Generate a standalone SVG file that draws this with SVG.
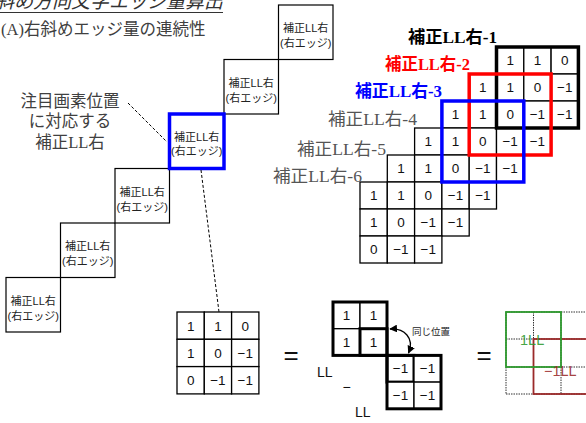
<svg xmlns="http://www.w3.org/2000/svg" width="586" height="423" viewBox="0 0 586 423">
<defs>
<style>
.box{fill:#fff;stroke:#000;stroke-width:1.2}
.bt{font-family:"Liberation Sans","Noto Sans CJK JP",sans-serif;font-size:11px;fill:#222;text-anchor:middle}
.ann{font-family:"Liberation Serif","Noto Sans CJK JP",serif;font-size:16.5px;fill:#404040}
.lbl{font-family:"Liberation Serif","Noto Sans CJK JP",serif;font-size:17px}
.cell{fill:#fff;stroke:#000;stroke-width:1.3}
.ct{font-family:"Liberation Sans","Noto Sans CJK JP",sans-serif;font-size:13.5px;fill:#111;text-anchor:middle}
.dash{stroke:#000;stroke-width:1;stroke-dasharray:3 2;fill:none}
.dot{stroke:#333;stroke-width:1;stroke-dasharray:1.5 1;fill:none}
.eq{font-family:"Liberation Sans",sans-serif;font-size:26px;fill:#111;text-anchor:middle}
.ll{font-family:"Liberation Sans",sans-serif;font-size:14px;fill:#111}
</style>
<marker id="ah" viewBox="0 0 10 10" refX="9" refY="5" markerWidth="6" markerHeight="6" orient="auto-start-reverse">
<path d="M0,0 L10,5 L0,10 z" fill="#000"/>
</marker>
</defs>
<rect width="586" height="423" fill="#fff"/>

<!-- title -->
<g id="title">
<text x="223" y="8" text-anchor="end" font-family="'Noto Sans CJK JP',sans-serif" font-size="19" font-style="italic" fill="#333">右斜め方向文字エッジ量算出</text>
<line x1="0" y1="12.5" x2="223" y2="12.5" stroke="#333" stroke-width="1"/>
<text x="1" y="35" font-family="'Liberation Serif','Noto Sans CJK JP',serif" font-size="16.5" fill="#404040">(A)右斜めエッジ量の連続性</text>
</g>

<!-- staircase boxes -->
<g id="box1"><rect class="box" x="6" y="277.5" width="54.5" height="54.5"/><text class="bt" x="33.2" y="304.5">補正LL右</text><text class="bt" x="33.2" y="319.5">(右エッジ)</text></g>
<g id="box2"><rect class="box" x="60.5" y="223" width="54.5" height="54.5"/><text class="bt" x="87.7" y="250">補正LL右</text><text class="bt" x="87.7" y="265">(右エッジ)</text></g>
<g id="box3"><rect class="box" x="115" y="168.5" width="54.5" height="54.5"/><text class="bt" x="142.2" y="195.5">補正LL右</text><text class="bt" x="142.2" y="210.5">(右エッジ)</text></g>
<g id="box5"><rect class="box" x="224" y="59.5" width="54.5" height="54.5"/><text class="bt" x="251.2" y="86.5">補正LL右</text><text class="bt" x="251.2" y="101.5">(右エッジ)</text></g>
<g id="box6"><rect class="box" x="278.5" y="5" width="54.5" height="54.5"/><text class="bt" x="305.7" y="32">補正LL右</text><text class="bt" x="305.7" y="47">(右エッジ)</text></g>
<g id="box4"><rect x="169.5" y="114" width="54.5" height="54.5" fill="#fff" stroke="#0000ff" stroke-width="3.5"/><text class="bt" x="196.7" y="141" font-size="10.5">補正LL右</text><text class="bt" x="196.7" y="155" font-size="10.5">(右エッジ)</text></g>

<!-- annotation -->
<g id="annotation">
<text class="ann" x="70" y="107" text-anchor="middle">注目画素位置</text>
<text class="ann" x="70" y="127" text-anchor="middle">に対応する</text>
<text class="ann" x="70" y="148" text-anchor="middle">補正LL右</text>
</g>

<!-- right grid -->
<g id="grid">
<rect class="cell" x="496.5" y="47" width="27.3" height="27"/><text class="ct" x="510.15" y="65">1</text>
<rect class="cell" x="523.8" y="47" width="27.3" height="27"/><text class="ct" x="537.45" y="65">1</text>
<rect class="cell" x="551.1" y="47" width="27.3" height="27"/><text class="ct" x="564.75" y="65">0</text>
<rect class="cell" x="469.2" y="74" width="27.3" height="27"/><text class="ct" x="482.85" y="92">1</text>
<rect class="cell" x="496.5" y="74" width="27.3" height="27"/><text class="ct" x="510.15" y="92">1</text>
<rect class="cell" x="523.8" y="74" width="27.3" height="27"/><text class="ct" x="537.45" y="92">0</text>
<rect class="cell" x="551.1" y="74" width="27.3" height="27"/><text class="ct" x="564.75" y="92">−1</text>
<rect class="cell" x="441.9" y="101" width="27.3" height="27"/><text class="ct" x="455.55" y="119">1</text>
<rect class="cell" x="469.2" y="101" width="27.3" height="27"/><text class="ct" x="482.85" y="119">1</text>
<rect class="cell" x="496.5" y="101" width="27.3" height="27"/><text class="ct" x="510.15" y="119">0</text>
<rect class="cell" x="523.8" y="101" width="27.3" height="27"/><text class="ct" x="537.45" y="119">−1</text>
<rect class="cell" x="551.1" y="101" width="27.3" height="27"/><text class="ct" x="564.75" y="119">−1</text>
<rect class="cell" x="414.6" y="128" width="27.3" height="27"/><text class="ct" x="428.25" y="146">1</text>
<rect class="cell" x="441.9" y="128" width="27.3" height="27"/><text class="ct" x="455.55" y="146">1</text>
<rect class="cell" x="469.2" y="128" width="27.3" height="27"/><text class="ct" x="482.85" y="146">0</text>
<rect class="cell" x="496.5" y="128" width="27.3" height="27"/><text class="ct" x="510.15" y="146">−1</text>
<rect class="cell" x="523.8" y="128" width="27.3" height="27"/><text class="ct" x="537.45" y="146">−1</text>
<rect class="cell" x="387.3" y="155" width="27.3" height="27"/><text class="ct" x="400.95" y="173">1</text>
<rect class="cell" x="414.6" y="155" width="27.3" height="27"/><text class="ct" x="428.25" y="173">1</text>
<rect class="cell" x="441.9" y="155" width="27.3" height="27"/><text class="ct" x="455.55" y="173">0</text>
<rect class="cell" x="469.2" y="155" width="27.3" height="27"/><text class="ct" x="482.85" y="173">−1</text>
<rect class="cell" x="496.5" y="155" width="27.3" height="27"/><text class="ct" x="510.15" y="173">−1</text>
<rect class="cell" x="360" y="182" width="27.3" height="27"/><text class="ct" x="373.65" y="200">1</text>
<rect class="cell" x="387.3" y="182" width="27.3" height="27"/><text class="ct" x="400.95" y="200">1</text>
<rect class="cell" x="414.6" y="182" width="27.3" height="27"/><text class="ct" x="428.25" y="200">0</text>
<rect class="cell" x="441.9" y="182" width="27.3" height="27"/><text class="ct" x="455.55" y="200">−1</text>
<rect class="cell" x="469.2" y="182" width="27.3" height="27"/><text class="ct" x="482.85" y="200">−1</text>
<rect class="cell" x="360" y="209" width="27.3" height="27"/><text class="ct" x="373.65" y="227">1</text>
<rect class="cell" x="387.3" y="209" width="27.3" height="27"/><text class="ct" x="400.95" y="227">0</text>
<rect class="cell" x="414.6" y="209" width="27.3" height="27"/><text class="ct" x="428.25" y="227">−1</text>
<rect class="cell" x="441.9" y="209" width="27.3" height="27"/><text class="ct" x="455.55" y="227">−1</text>
<rect class="cell" x="360" y="236" width="27.3" height="27"/><text class="ct" x="373.65" y="254">0</text>
<rect class="cell" x="387.3" y="236" width="27.3" height="27"/><text class="ct" x="400.95" y="254">−1</text>
<rect class="cell" x="414.6" y="236" width="27.3" height="27"/><text class="ct" x="428.25" y="254">−1</text>
</g>

<g id="window1"><rect x="496.5" y="47" width="81.9" height="81" fill="none" stroke="#000" stroke-width="3.5"/><text class="lbl" x="408" y="43" font-weight="bold" fill="#000" textLength="89" lengthAdjust="spacingAndGlyphs">補正LL右-1</text></g>
<g id="window2"><rect x="469.2" y="74" width="81.9" height="81" fill="none" stroke="#ff0000" stroke-width="3.5"/><text class="lbl" x="385" y="70" font-weight="bold" fill="#ff0000" textLength="85" lengthAdjust="spacingAndGlyphs">補正LL右-2</text></g>
<g id="window3"><rect x="441.9" y="101" width="81.9" height="81" fill="none" stroke="#0000ff" stroke-width="3.5"/><text class="lbl" x="355" y="97" font-weight="bold" fill="#0000ff" textLength="87" lengthAdjust="spacingAndGlyphs">補正LL右-3</text></g>
<g id="label4"><text class="lbl" x="328" y="125" fill="#555" textLength="89" lengthAdjust="spacingAndGlyphs">補正LL右-4</text></g>
<g id="label5"><text class="lbl" x="297" y="155" fill="#555" textLength="89" lengthAdjust="spacingAndGlyphs">補正LL右-5</text></g>
<g id="label6"><text class="lbl" x="273" y="182" fill="#555" textLength="89" lengthAdjust="spacingAndGlyphs">補正LL右-6</text></g>

<!-- bottom matrix -->
<g id="matrix">
<rect class="cell" x="177" y="312" width="27.3" height="27.3"/><text class="ct" x="190.65" y="330.5">1</text>
<rect class="cell" x="204.3" y="312" width="27.3" height="27.3"/><text class="ct" x="217.95" y="330.5">1</text>
<rect class="cell" x="231.6" y="312" width="27.3" height="27.3"/><text class="ct" x="245.25" y="330.5">0</text>
<rect class="cell" x="177" y="339.3" width="27.3" height="27.3"/><text class="ct" x="190.65" y="357.8">1</text>
<rect class="cell" x="204.3" y="339.3" width="27.3" height="27.3"/><text class="ct" x="217.95" y="357.8">0</text>
<rect class="cell" x="231.6" y="339.3" width="27.3" height="27.3"/><text class="ct" x="245.25" y="357.8">−1</text>
<rect class="cell" x="177" y="366.6" width="27.3" height="27.3"/><text class="ct" x="190.65" y="385.1">0</text>
<rect class="cell" x="204.3" y="366.6" width="27.3" height="27.3"/><text class="ct" x="217.95" y="385.1">−1</text>
<rect class="cell" x="231.6" y="366.6" width="27.3" height="27.3"/><text class="ct" x="245.25" y="385.1">−1</text>
</g>

<g id="eq1"><text class="eq" x="291" y="364">=</text></g>

<!-- decomposition -->
<g id="blockA">
<rect class="cell" x="333" y="302" width="27" height="26.7"/><text class="ct" x="346.5" y="320">1</text>
<rect class="cell" x="360" y="302" width="27" height="26.7"/><text class="ct" x="373.5" y="320">1</text>
<rect class="cell" x="333" y="328.7" width="27" height="26.7"/><text class="ct" x="346.5" y="346.7">1</text>
<rect x="360" y="328.7" width="27" height="26.7" fill="#fff" stroke="#000" stroke-width="3"/><text class="ct" x="373.5" y="346.7">1</text>
<rect x="333" y="302" width="54" height="53.4" fill="none" stroke="#000" stroke-width="3"/>
</g>
<g id="blockB">
<rect x="387" y="355.4" width="27" height="26.7" fill="#fff" stroke="#000" stroke-width="3"/><text class="ct" x="400.5" y="373.4">−1</text>
<rect class="cell" x="414" y="355.4" width="27" height="26.7"/><text class="ct" x="427.5" y="373.4">−1</text>
<rect class="cell" x="387" y="382.1" width="27" height="26.7"/><text class="ct" x="400.5" y="400.1">−1</text>
<rect class="cell" x="414" y="382.1" width="27" height="26.7"/><text class="ct" x="427.5" y="400.1">−1</text>
<rect x="387" y="355.4" width="54" height="53.4" fill="none" stroke="#000" stroke-width="3"/>
</g>
<g id="ltexts">
<text class="ll" x="317" y="377">LL</text>
<text class="ll" x="346.5" y="392" text-anchor="middle">−</text>
<text class="ll" x="355" y="417">LL</text>
<text x="412" y="335" font-family="'Noto Sans CJK JP',sans-serif" font-size="9.5" fill="#222">同じ位置</text>
</g>

<g id="eq2"><text class="eq" x="484" y="364">=</text></g>

<!-- right result -->
<g id="result">
<path class="dot" d="M506 312H586M506 339H586M506 367H586M506 394H586M506 312V394M533.5 312V394M561 312V394"/>
<rect x="533.5" y="339" width="80" height="55" fill="none" stroke="#9b2a2a" stroke-width="1.8"/>
<rect x="506" y="312" width="55" height="55" fill="none" stroke="#2e9a2e" stroke-width="1.8"/>
<text x="520" y="345" font-family="'Liberation Sans',sans-serif" font-size="14.5" fill="#2e9a2e" fill-opacity="0.9">1LL</text>
<text x="544" y="376" font-family="'Liberation Sans',sans-serif" font-size="14.5" fill="#9b2a2a" fill-opacity="0.9">−1LL</text>
</g>

<!-- connectors -->
<g id="connectors">
<line class="dash" x1="128" y1="103" x2="167" y2="142"/>
<line class="dash" x1="201" y1="170" x2="219" y2="312"/>
<path d="M390 329 C404 328 415 338 408.5 353" fill="none" stroke="#000" stroke-width="1.3" marker-start="url(#ah)" marker-end="url(#ah)"/>
</g>
</svg>
